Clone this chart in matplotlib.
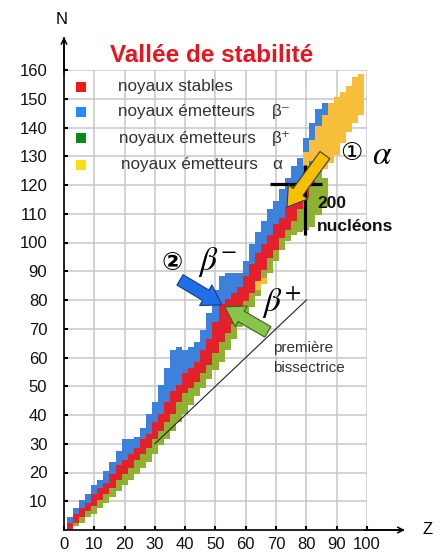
import matplotlib
matplotlib.use('Agg')
import matplotlib.pyplot as plt
import numpy as np

plt.rcParams['font.family'] = ['Liberation Sans', 'DejaVu Sans', 'Noto Sans CJK JP']
plt.rcParams['mathtext.fontset'] = 'stix'

nan = np.nan
# proton number Z (column centres, every 2)
z_vals = [2, 4, 6, 8, 10, 12, 14, 16, 18, 20, 22, 24, 26, 28, 30, 32, 34, 36, 38, 40,
          42, 44, 46, 48, 50, 52, 54, 56, 58, 60, 62, 64, 66, 68, 70, 72, 74, 76, 78, 80,
          82, 84, 86, 88, 90, 92, 94, 96, 98]
# beta+ emitters (N range)
green_lo = [0, 2, 3, 5, 6, 8, 10, 12, 14, 16, 18, 20, 22, 24, 27, 30, 32, 35, 38, 41,
            44, 47, 50, 53, 56, 59, 63, 67, 71, 74, 78, 82, 86, 90, 94, 98, 101, 103, 104, 105,
            106, 110, 113, nan, nan, nan, nan, nan, nan]
green_hi = [0, 2, 4, 6, 8, 10, 12, 14, 17, 19, 21, 24, 26, 28, 31, 34, 37, 40, 44, 47,
            49, 51, 54, 57, 61, 65, 68, 71, 75, 79, 82, 86, 90, 94, 97, 101, 104, 107, 111, 115,
            120, 125, 122, nan, nan, nan, nan, nan, nan]
# stable nuclei (N range)
stable_lo = [1, 3, 5, 7, 9, 11, 13, 15, 18, 20, 22, 25, 27, 29, 32, 35, 38, 41, 45, 48,
             50, 52, 55, 58, 62, 66, 69, 72, 76, 80, 83, 87, 91, 95, 98, 102, 105, 108, 112, 116,
             121, nan, nan, nan, nan, nan, nan, nan, nan]
stable_hi = [2, 5, 7, 9, 12, 14, 16, 19, 22, 24, 26, 28, 31, 33, 37, 40, 44, 48, 50, 54,
             56, 58, 62, 66, 72, 78, 80, 82, 84, 88, 92, 96, 99, 102, 106, 108, 112, 116, 120, 124,
             126, nan, nan, nan, nan, nan, nan, nan, nan]
# beta- emitters (N range)
blue_lo = [3, 6, 8, 10, 13, 15, 17, 20, 23, 25, 27, 29, 32, 34, 38, 41, 45, 49, 51, 55,
           57, 59, 63, 67, 73, 79, 81, 83, 85, 89, 93, 97, 100, 103, 107, 109, 113, 117, 121, 125,
           127, 141, 145, nan, nan, nan, nan, nan, nan]
blue_hi = [4, 7, 10, 12, 15, 17, 20, 23, 27, 31, 31, 32, 35, 40, 44, 50, 56, 62, 63, 62,
           63, 65, 69, 75, 83, 88, 89, 89, 89, 93, 99, 103, 107, 111, 114, 118, 122, 126, 129, 136,
           141, 146, 148, nan, nan, nan, nan, nan, nan]
# alpha emitters (N range)
alpha_lo = [nan] * 31 + [84, 86, nan, nan, nan, nan, nan, nan, 127,
            129, 126, 126, 128, 131, 135, 139, 142, 145]
alpha_hi = [nan] * 31 + [86, 87, nan, nan, nan, nan, nan, nan, 131,
            135, 140, 144, 148, 150, 152, 154, 157, 158]

legend_labels = ['noyaux stables', 'noyaux émetteurs', 'noyaux émetteurs', 'noyaux émetteurs']
legend_syms = ['', 'β⁻', 'β⁺', 'α']

C_RED, C_BLUE, C_GREEN, C_YEL = '#E4202A', '#3C82DC', '#8DB232', '#F7BE3A'
L_COLS = ['#F01818', '#1E8CFF', '#0A8A1A', '#F5E010']

fig = plt.figure(figsize=(4.46, 5.54), dpi=100)
ax = fig.add_axes([64/446, 24/554, 303/446, 460/554])
ax.set_xlim(0, 100)
ax.set_ylim(0, 160)

z = np.array(z_vals, float)
for lo, hi, col in [(green_lo, green_hi, C_GREEN), (stable_lo, stable_hi, C_RED),
                    (blue_lo, blue_hi, C_BLUE), (alpha_lo, alpha_hi, C_YEL)]:
    lo = np.array(lo, float); hi = np.array(hi, float)
    m = ~np.isnan(lo)
    ax.bar(z[m], hi[m] - lo[m] + 1, bottom=lo[m] - 0.5, width=2, color=col,
           linewidth=0, zorder=2)

ax.set_xticks(range(0, 101, 10))
ax.set_yticks(range(10, 161, 10))
ax.grid(True, color='#c8c8c8', lw=1.1, zorder=0)
ax.set_axisbelow(True)
for s in ['top', 'right']:
    ax.spines[s].set_visible(False)
for s in ['left', 'bottom']:
    ax.spines[s].set_linewidth(1.2)
ax.tick_params(direction='in', length=3, width=1.5, labelsize=12, labelcolor='#111')
ax.tick_params(axis='y', pad=12)
ax.tick_params(axis='x', pad=5)

# axis arrows
ax.annotate('', xy=(0, 171.5), xytext=(0, 159), annotation_clip=False,
            arrowprops=dict(arrowstyle='->', lw=1.1, color='k', shrinkA=0, shrinkB=0))
ax.annotate('', xy=(112.5, 0), xytext=(99, 0), annotation_clip=False,
            arrowprops=dict(arrowstyle='->', lw=1.1, color='k', shrinkA=0, shrinkB=0))
ax.plot([0, 0], [160, 171], color='k', lw=1.2, clip_on=False)
ax.plot([100, 112], [0, 0], color='k', lw=1.2, clip_on=False)
ax.text(-0.7, 177.4, 'N', ha='center', va='center', fontsize=12)
ax.text(120, 0, 'Z', ha='center', va='center', fontsize=12)

fig.text(212/446, 1 - 55/554, 'Vallée de stabilité', ha='center', va='center',
         color='#E8141E', fontsize=17.5, fontweight='bold')

# legend
leg_y = [154.1, 145.4, 136.3, 127.0]
leg_x = [17.8, 17.8, 18.3, 18.8]
for i in range(4):
    ax.scatter([5.6], [leg_y[i]], marker='s', s=50, color=L_COLS[i], zorder=5, linewidths=0)
    ax.text(leg_x[i], leg_y[i], legend_labels[i], ha='left', va='center', fontsize=12.3,
            color='#333')
    if legend_syms[i]:
        ax.text(68.6, leg_y[i], legend_syms[i], ha='left', va='center', fontsize=12.3,
                color='#333')

# bissectrice
ax.plot([30, 80], [30, 80], color='#222', lw=0.8, zorder=3)
ax.text(69, 63.3, 'première', ha='left', va='center', fontsize=11, color='#333')
ax.text(69, 56.3, 'bissectrice', ha='left', va='center', fontsize=11, color='#333')

# cross
ax.plot([68, 85.2], [120.3, 120.3], color='k', lw=2.3, zorder=5, solid_capstyle='butt')
ax.plot([79.5, 79.5], [102.6, 127], color='k', lw=2.3, zorder=5, solid_capstyle='butt')


def block_arrow(tail, tip, fc, ec):
    ax.annotate('', xy=tip, xytext=tail, zorder=6,
                arrowprops=dict(arrowstyle='simple,head_length=0.9,head_width=1.15,tail_width=0.58',
                                fc=fc, ec=ec, lw=0.8, shrinkA=0, shrinkB=0, mutation_scale=15))


block_arrow((86.1, 130.4), (73.6, 112.3), '#F5C000', '#3a3a3a')
block_arrow((38.3, 87.0), (52.1, 78.3), '#1F6FE8', '#1a3a80')
block_arrow((67.3, 68.9), (53.1, 77.6), '#86C44A', '#3f5f25')

ax.text(83.5, 113.7, '200', ha='left', va='center', fontsize=12.5, fontweight='bold', color='#111')
ax.text(83.5, 105.4, 'nucléons', ha='left', va='center', fontsize=12.5, fontweight='bold', color='#111')

ax.text(94.7, 131.1, '①', ha='center', va='center', fontsize=18,
        family=['DejaVu Sans', 'Noto Sans CJK JP'])
ax.text(105, 130.4, r'$\alpha$', ha='center', va='center', fontsize=24)
ax.text(35.6, 92.9, '②', ha='center', va='center', fontsize=18, fontweight='bold',
        family=['DejaVu Sans', 'Noto Sans CJK JP'])
ax.text(50.5, 93.2, r'$\beta^{-}$', ha='center', va='center', fontsize=24)
ax.text(71.6, 79.0, r'$\beta^{+}$', ha='center', va='center', fontsize=24)

fig.savefig('out.png', dpi=100)
